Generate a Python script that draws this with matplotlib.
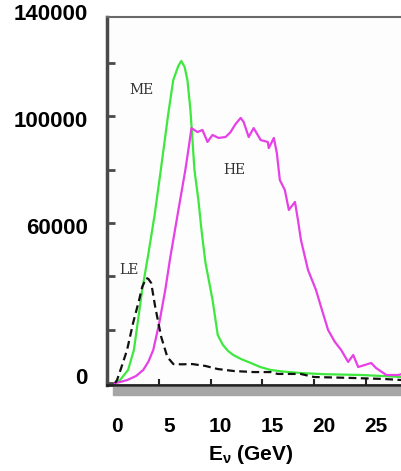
import matplotlib
matplotlib.use("Agg")
import matplotlib.pyplot as plt
import matplotlib.transforms as mtransforms
from matplotlib.patches import Rectangle

plt.rcParams['font.family'] = ['Liberation Sans', 'DejaVu Sans']
plt.rcParams['mathtext.fontset'] = 'custom'
plt.rcParams['mathtext.rm'] = 'Liberation Sans:bold'
plt.rcParams['mathtext.it'] = 'Liberation Sans:bold'
plt.rcParams['mathtext.bf'] = 'Liberation Sans:bold'

# ---- data ----
me_E = [0.78, 1.26, 2.04, 2.6, 3.0, 3.4, 4.0, 4.6, 5.15, 5.92, 6.4, 6.9, 7.18, 7.5,
        7.77, 8.06, 8.45, 8.83, 9.13, 9.5, 10.2, 10.7, 11.2, 11.7, 12.2, 13.0, 13.9,
        14.8, 15.8, 17.0, 18.7, 21.0, 24.6, 28.5]
me_N = [0, 1100, 4900, 12400, 23600, 34900, 48500, 63000, 78500, 101000, 113600,
        119000, 120750, 118500, 113600, 102400, 79900, 68600, 57400, 45400, 31100,
        18000, 14250, 12000, 10500, 8900, 7500, 6000, 4900, 4300, 3750, 3300, 3000, 2250]

he_E = [0.78, 1.3, 1.94, 2.8, 3.5, 4.0, 4.47, 5.05, 5.63, 6.12, 6.9, 7.57, 7.86, 8.16,
        8.74, 9.22, 9.71, 10.19, 10.78, 11.46, 11.94, 12.4, 12.91, 13.2, 13.69, 14.17,
        14.85, 15.53, 15.63, 16.12, 16.41, 16.7, 17.18, 17.57, 18.16, 18.45, 18.74,
        19.42, 20.19, 20.8, 21.36, 22.0, 22.62, 23.3, 23.79, 24.27, 25.53, 26.0,
        26.99, 28.16, 28.5]
he_N = [0, 400, 1100, 2600, 4900, 8000, 12400, 22500, 34900, 47250, 64900, 79900,
        87400, 95600, 94100, 94900, 90400, 93000, 91900, 92250, 94100, 97000, 99400,
        97900, 92250, 95600, 91100, 90400, 88100, 91900, 86250, 76100, 72400, 64900,
        67900, 61100, 53600, 42400, 34900, 27000, 19900, 15500, 12400, 7900, 10500,
        6000, 7500, 5600, 3000, 3000, 3400]

le_E = [0.78, 0.97, 1.4, 1.94, 2.52, 3.1, 3.4, 3.79, 4.0, 4.27, 4.66, 5.24, 5.83, 6.41,
        7.2, 8.25, 9.5, 10.68, 12.23, 14.17, 15.8, 16.5, 18.7, 20.0, 23.6, 26.8, 28.5]
le_N = [0, 1100, 6000, 12400, 22500, 31100, 36000, 39400, 39000, 37500, 28500, 17250,
        9750, 7100, 7000, 7100, 6400, 5250, 4500, 4100, 4100, 3400, 3400, 2250, 1900,
        1500, 1100]

x_ticks = [0, 5, 10, 15, 20, 25]
y_ticks = [0, 20000, 40000, 60000, 80000, 100000, 120000]
y_tick_labels = [0, 60000, 100000, 140000]
curve_labels = {"ME": (3.38, 109900), "HE": (12.27, 79900), "LE": (2.13, 42400)}

W, H = 401, 471
fig = plt.figure(figsize=(W / 100, H / 100), dpi=100)
ax = fig.add_axes([107 / W, 1 - 385 / H, (405 - 107) / W, (385 - 17) / H])
ax.set_facecolor('#fdfdfd')

ax.plot(me_E, me_N, color='#3ee83e', lw=1.6)
ax.plot(he_E, he_N, color='#e640e6', lw=1.6)
ax.plot(le_E, le_N, color='#111111', lw=1.6, ls=(0, (3.5, 2)))

ax.set_xlim(0, (405 - 107) / 10.35)
ax.set_ylim(-750, 137250)

ax.spines['left'].set_linewidth(2.5)
ax.spines['left'].set_color('#4a4a4a')
ax.spines['top'].set_linewidth(1.5)
ax.spines['top'].set_color('#6a6a6a')
ax.spines['bottom'].set_linewidth(2)
ax.spines['bottom'].set_color('#222222')
ax.spines['right'].set_visible(False)

ax.set_yticks(y_ticks)
ax.set_yticklabels([])
ax.tick_params(axis='y', direction='in', length=6, width=2, color='#4a4a4a')
ax.set_xticks(x_ticks)
ax.set_xticklabels([str(v) for v in x_ticks], fontsize=15, fontweight='bold')
ax.tick_params(axis='x', direction='in', length=4, width=1.5, color='#222222', pad=23)
shift = mtransforms.ScaledTranslation(10 / 100, 0, fig.dpi_scale_trans)
for lab in ax.get_xticklabels():
    lab.set_transform(lab.get_transform() + shift)

ytrans = mtransforms.blended_transform_factory(fig.transFigure, ax.transData)
for v in y_tick_labels:
    dy = 5 if v == 0 else -5
    off = mtransforms.ScaledTranslation(0, dy / 100, fig.dpi_scale_trans)
    ax.text(88 / W, v, str(v), transform=ytrans + off, ha='right', va='center',
            fontsize=16, fontweight='bold', clip_on=False)

for name, (ex, ny) in curve_labels.items():
    ax.text(ex, ny, name, family='DejaVu Serif', fontsize=10, color='#333333',
            ha='center', va='center')

fig.patches.append(Rectangle((113 / W, 1 - 395 / H), (W - 113) / W, 8 / H,
                             transform=fig.transFigure, color='#a6a6a6', zorder=0))

fig.text(251 / W, 1 - 454 / H, r'E$_{\nu}$ (GeV)', ha='center', va='center',
         fontsize=15, fontweight='bold')

fig.savefig('out.png', dpi=100)
